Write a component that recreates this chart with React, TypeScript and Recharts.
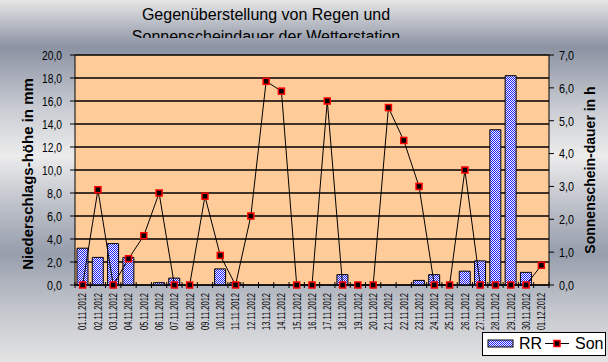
import { ComposedChart, Bar, Line, XAxis, YAxis, CartesianGrid } from "recharts";

const dates = [
  "01.11.2012", "02.11.2012", "03.11.2012", "04.11.2012", "05.11.2012", "06.11.2012",
  "07.11.2012", "08.11.2012", "09.11.2012", "10.11.2012", "11.11.2012", "12.11.2012",
  "13.11.2012", "14.11.2012", "15.11.2012", "16.11.2012", "17.11.2012", "18.11.2012",
  "19.11.2012", "20.11.2012", "21.11.2012", "22.11.2012", "23.11.2012", "24.11.2012",
  "25.11.2012", "26.11.2012", "27.11.2012", "28.11.2012", "29.11.2012", "30.11.2012",
  "01.12.2012",
];

// Niederschlag in mm
const rr = [
  3.2, 2.4, 3.6, 2.4, 0, 0.2, 0.6, 0, 0, 1.4, 0.2, 0, 0, 0, 0, 0, 0, 0.9, 0, 0, 0, 0,
  0.4, 0.9, 0, 1.2, 2.1, 13.5, 18.2, 1.1, 0,
];

// Sonnenscheindauer in h
const son = [
  0, 2.9, 0, 0.8, 1.5, 2.8, 0, 0, 2.7, 0.9, 0, 2.1, 6.2, 5.9, 0, 0, 5.6, 0, 0, 0, 5.4,
  4.4, 3.0, 0, 0, 3.5, 0, 0, 0, 0, 0.6,
];

const leftTicks = [0, 2, 4, 6, 8, 10, 12, 14, 16, 18, 20];
const rightTicks = [0, 1, 2, 3, 4, 5, 6, 7];

const data = dates.map((d, i) => ({ date: d, RR: rr[i], Son: son[i] }));

const W = 608;
const H = 362;
const LEFT_W = 75;
const RIGHT_W = 59;
const STEP = (W - LEFT_W - RIGHT_W) / dates.length;
const FONT = "Arial, 'Liberation Sans', sans-serif";

const fmt = (v: number) => v.toFixed(1).replace(".", ",");

const DateTick = (props: any) => {
  const { x, y, payload, index } = props;
  return (
    <g>
      <line x1={x - STEP / 2} x2={x - STEP / 2} y1={y - 3} y2={y + 3} stroke="#000" />
      {index === dates.length - 1 && (
        <line x1={x + STEP / 2} x2={x + STEP / 2} y1={y - 3} y2={y + 3} stroke="#000" />
      )}
      <text
        x={x}
        y={y + 8}
        dy="0.35em"
        transform={`rotate(-90, ${x}, ${y + 8})`}
        textAnchor="end"
        fontSize={11}
        textLength={37}
        lengthAdjust="spacingAndGlyphs"
        fontFamily={FONT}
        fill="#000"
      >
        {payload.value}
      </text>
    </g>
  );
};

const ValueTick = (props: any) => {
  const { x, y, payload, textAnchor } = props;
  const label = fmt(payload.value);
  return (
    <text
      x={x}
      y={y}
      dy="0.36em"
      textAnchor={textAnchor}
      fontSize={13.5}
      textLength={label.length * 5}
      lengthAdjust="spacingAndGlyphs"
      fontFamily={FONT}
      fill="#000"
    >
      {label}
    </text>
  );
};

const SonDot = (props: any) => {
  const { cx, cy } = props;
  if (cx == null || cy == null) return null;
  return <rect x={cx - 3} y={cy - 3} width={6} height={6} fill="#000" stroke="#ff0000" strokeWidth={1.5} />;
};

export default function App() {
  return (
    <div
      style={{
        position: "absolute",
        left: 0,
        top: 0,
        width: W,
        height: H,
        overflow: "hidden",
        background:
          "linear-gradient(to bottom, #e6e6e6 0%, #8b92a2 13%, #c9ccd3 30%, #ececec 43%, #b9bdc6 58%, #979eac 70%, #c2c5cc 85%, #e4e4e4 100%)",
        fontFamily: FONT,
      }}
    >
      <div
        style={{
          position: "absolute",
          left: 0,
          top: 0,
          width: 532,
          height: 38,
          overflow: "hidden",
          textAlign: "center",
          fontSize: 16,
          lineHeight: "22px",
          paddingTop: 4,
          boxSizing: "border-box",
          color: "#000",
        }}
      >
        Gegenüberstellung von Regen und
        <br />
        Sonnenscheindauer der Wetterstation
      </div>
      <ComposedChart
        width={W}
        height={H}
        data={data}
        margin={{ top: 55, right: 0, left: 0, bottom: 0 }}
        style={{ position: "absolute", left: 0, top: 0 }}
      >
        <defs>
          <pattern id="checker" width={2} height={2} patternUnits="userSpaceOnUse">
            <rect width={2} height={2} fill="#ffffff" />
            <rect width={1} height={1} fill="#1a1aff" />
            <rect x={1} y={1} width={1} height={1} fill="#1a1aff" />
          </pattern>
        </defs>
        <CartesianGrid
          yAxisId="left"
          vertical={false}
          stroke="#000"
          strokeWidth={1.3}
          fill="#ffcc99"
          fillOpacity={1}
        />
        <XAxis
          dataKey="date"
          interval={0}
          height={77}
          tickSize={0}
          tickMargin={0}
          tick={<DateTick />}
          axisLine={{ stroke: "#000" }}
        />
        <YAxis
          yAxisId="left"
          orientation="left"
          width={LEFT_W}
          domain={[0, 20]}
          ticks={leftTicks}
          interval={0}
          tickSize={5}
          tickMargin={8}
          tick={<ValueTick />}
          axisLine={{ stroke: "#000" }}
          tickLine={{ stroke: "#000" }}
        />
        <YAxis
          yAxisId="right"
          orientation="right"
          width={RIGHT_W}
          domain={[0, 7]}
          ticks={rightTicks}
          interval={0}
          tickSize={5}
          tickMargin={5}
          tick={<ValueTick />}
          axisLine={{ stroke: "#000" }}
          tickLine={{ stroke: "#000" }}
        />
        <Bar
          yAxisId="left"
          dataKey="RR"
          barSize={11}
          fill="url(#checker)"
          stroke="#000"
          strokeWidth={1}
          isAnimationActive={false}
        />
        <Line
          yAxisId="right"
          dataKey="Son"
          type="linear"
          stroke="#000"
          strokeWidth={1}
          dot={<SonDot />}
          activeDot={false}
          isAnimationActive={false}
        />
      </ComposedChart>
      <svg width={W} height={H} style={{ position: "absolute", left: 0, top: 0, pointerEvents: "none" }}>
        <text
          x={28}
          y={174}
          transform="rotate(-90, 28, 174)"
          textAnchor="middle"
          dy="0.35em"
          fontSize={15}
          fontWeight="bold"
          fontFamily={FONT}
          fill="#000"
        >
          Niederschlags-höhe in mm
        </text>
        <text
          x={590}
          y={170}
          transform="rotate(-90, 590, 170)"
          textAnchor="middle"
          dy="0.35em"
          fontSize={14}
          fontWeight="bold"
          fontFamily={FONT}
          fill="#000"
        >
          Sonnenschein-dauer in h
        </text>
      </svg>
      <div
        style={{
          position: "absolute",
          left: 482,
          top: 332,
          width: 124,
          height: 24,
          boxSizing: "border-box",
          border: "1px solid #000",
          background: "#fff",
          fontSize: 16,
          color: "#000",
        }}
      >
        <svg width={124} height={22} style={{ position: "absolute", left: 0, top: 0 }}>
          <rect x={5} y={7} width={25} height={7} fill="url(#checker)" stroke="#000" />
          <line x1={62} x2={86} y1={10.5} y2={10.5} stroke="#000" />
          <rect x={71} y={7.5} width={6} height={6} fill="#000" stroke="#ff0000" strokeWidth={1.5} />
        </svg>
        <span style={{ position: "absolute", left: 36, top: 1, lineHeight: "20px" }}>RR</span>
        <span style={{ position: "absolute", left: 92, top: 1, lineHeight: "20px" }}>Son</span>
      </div>
    </div>
  );
}
